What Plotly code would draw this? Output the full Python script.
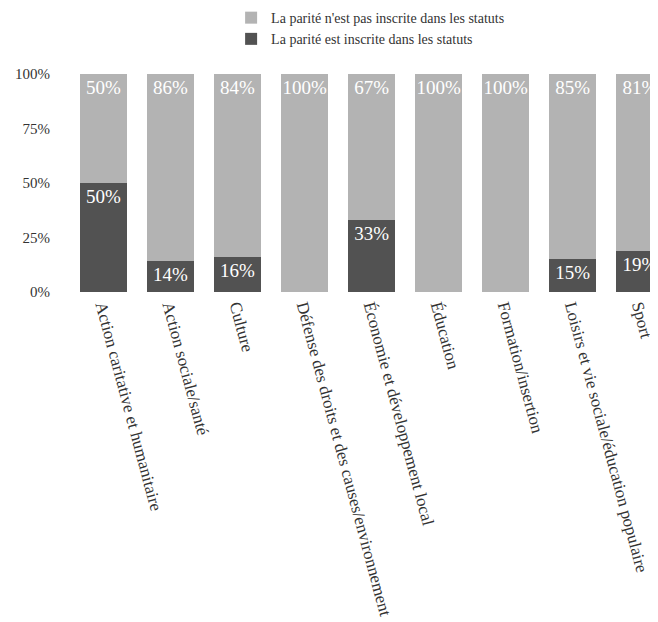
import plotly.graph_objects as go

categories = [
    "Action caritative et humanitaire",
    "Action sociale/santé",
    "Culture",
    "Défense des droits et des causes/environnement",
    "Économie et développement local",
    "Éducation",
    "Formation/insertion",
    "Loisirs et vie sociale/éducation populaire",
    "Sport",
]
inscrite = [50, 14, 16, 0, 33, 0, 0, 15, 19]
non_inscrite = [50, 86, 84, 100, 67, 100, 100, 85, 81]
y_tick_vals = [0, 25, 50, 75, 100]
y_tick_text = ["0%", "25%", "50%", "75%", "100%"]

FONT = "Liberation Serif"

fig = go.Figure()
fig.add_trace(go.Bar(
    x=categories, y=inscrite,
    name="La parité est inscrite dans les statuts",
    marker=dict(color="#525252", line=dict(width=0)),
    text=[f"{v}%" if v > 0 else "" for v in inscrite],
    textposition="inside", insidetextanchor="end", textangle=0,
    textfont=dict(family=FONT, size=19, color="white"),
    constraintext="none",
))
fig.add_trace(go.Bar(
    x=categories, y=non_inscrite,
    name="La parité n'est pas inscrite dans les statuts",
    marker=dict(color="#b3b3b3", line=dict(width=0)),
    text=[f"{v}%" if v > 0 else "" for v in non_inscrite],
    textposition="inside", insidetextanchor="end", textangle=0,
    textfont=dict(family=FONT, size=19, color="white"),
    constraintext="none",
))

fig.update_layout(
    width=658, height=622,
    barmode="stack", bargap=0.3,
    plot_bgcolor="white", paper_bgcolor="white",
    font=dict(family=FONT, size=14, color="#333333"),
    margin=dict(l=62, r=8, t=66, b=338, autoexpand=False),
    showlegend=True,
    legend=dict(
        orientation="v", x=0.274, xanchor="left", xref="paper",
        y=1.33, yref="paper", yanchor="top",
        font=dict(family=FONT, size=14, color="#333333"),
        itemwidth=30, tracegroupgap=0,
    ),
    xaxis=dict(
        range=[-0.5, 8.27], tickangle=75, showgrid=False, showline=False,
        zeroline=False, ticks="", automargin=False,
        tickfont=dict(family=FONT, size=17, color="#333333"),
    ),
    yaxis=dict(
        range=[0, 100], tickvals=y_tick_vals, ticktext=y_tick_text,
        showgrid=False, showline=False, zeroline=False, ticks="",
        ticklabelstandoff=19, automargin=False,
        tickfont=dict(family=FONT, size=15, color="#333333"),
    ),
)

fig.write_html("out.html")
